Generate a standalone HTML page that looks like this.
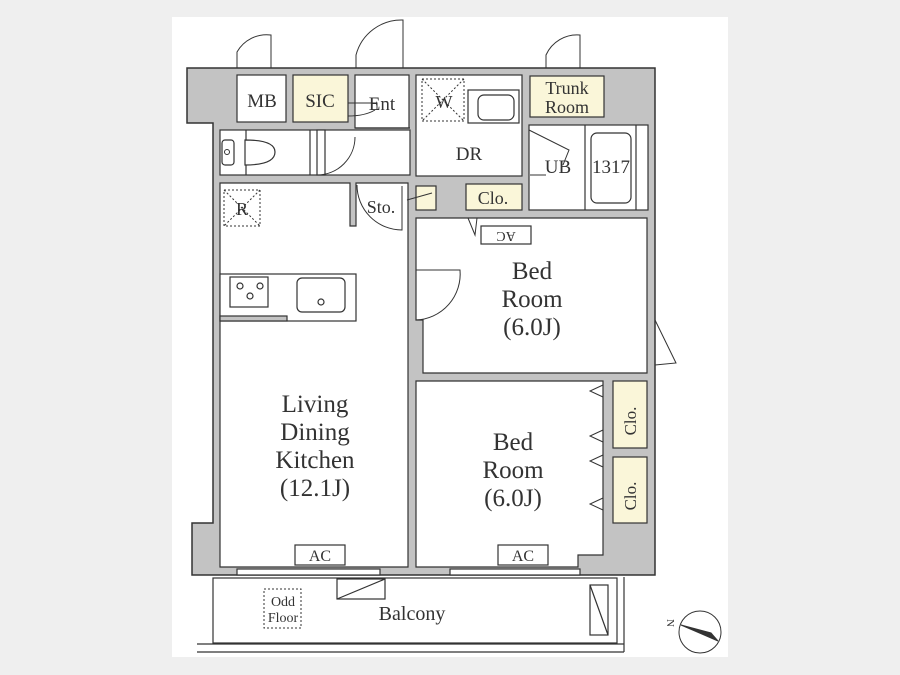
<!DOCTYPE html>
<html><head><meta charset="utf-8"><style>
html,body{margin:0;padding:0;background:#efefef;}
svg{display:block}
text{font-family:"Liberation Serif",serif;fill:#333}
</style></head><body>
<svg width="900" height="675" viewBox="0 0 900 675" xmlns="http://www.w3.org/2000/svg">
<rect x="0" y="0" width="900" height="675" fill="#efefef"/>
<rect x="172" y="17" width="556" height="640" fill="#fff"/>
<g stroke="#333" stroke-width="1.5" fill="none">
<polygon points="187,68 655,68 655,575 192,575 192,523 213,523 213,123 187,123" fill="#c3c3c3"/>
</g>
<g stroke="#333" stroke-width="1.2" fill="#fff">
<rect x="237" y="75" width="49" height="47"/>
<rect x="293" y="75" width="55" height="47" fill="#faf6d9"/>
<rect x="355" y="75" width="54" height="53"/>
<rect x="416" y="75" width="106" height="101"/>
<rect x="530" y="76" width="74" height="41" fill="#faf6d9"/>
<rect x="220" y="130" width="190" height="45"/>
<line x1="246" y1="130" x2="246" y2="175"/>
<line x1="310" y1="130" x2="310" y2="175"/>
<rect x="317" y="130" width="8" height="45"/>
<line x1="355" y1="128" x2="410" y2="128"/>
<rect x="529" y="125" width="119" height="85"/>
<line x1="585" y1="125" x2="585" y2="210"/>
<line x1="636" y1="125" x2="636" y2="210"/>
<rect x="591" y="133" width="40" height="70" rx="6"/>
<polygon points="220,183 350,183 350,226 356,226 356,183 408,183 408,567 220,567"/>
<rect x="416" y="186" width="20" height="24" fill="#faf6d9"/>
<rect x="466" y="184" width="56" height="26" fill="#faf6d9"/>
<polygon points="416,218 647,218 647,373 423,373 423,320 416,320"/>
<polygon points="416,381 603,381 603,555 578,555 578,567 416,567"/>
<rect x="613" y="381" width="34" height="67" fill="#faf6d9"/>
<rect x="613" y="457" width="34" height="66" fill="#faf6d9"/>
<rect x="220" y="274" width="136" height="47" fill="#fff"/>
<rect x="220" y="316" width="67" height="5" fill="#c3c3c3"/>
<rect x="230" y="277" width="38" height="30"/>
<rect x="297" y="278" width="48" height="34" rx="5"/>
<circle cx="321" cy="302" r="3"/>
<circle cx="240" cy="286" r="3"/><circle cx="260" cy="286" r="3"/><circle cx="250" cy="296" r="3"/>
<rect x="213" y="578" width="404" height="65"/>
<line x1="197" y1="644" x2="624" y2="644"/>
<line x1="197" y1="652" x2="624" y2="652"/>
<line x1="624" y1="577" x2="624" y2="652"/>
<rect x="237" y="569" width="143" height="6"/>
<rect x="450" y="569" width="130" height="6"/>
<rect x="337" y="579" width="48" height="20"/>
<line x1="337" y1="599" x2="385" y2="579"/>
<rect x="590" y="585" width="18" height="50"/>
<line x1="590" y1="585" x2="608" y2="635"/>
<rect x="295" y="545" width="50" height="20"/>
<rect x="498" y="545" width="50" height="20"/>
<rect x="481" y="226" width="50" height="18"/>
<rect x="468" y="90" width="51" height="33"/>
<rect x="478" y="95" width="36" height="25" rx="6"/>
<rect x="222" y="140" width="12" height="25" rx="3"/>
<path d="M245,140 Q275,140 275,152 Q275,165 245,165 Z"/>
</g>
<g stroke="#333" stroke-width="1" fill="none">
<circle cx="227" cy="152" r="2.5"/>
<path d="M237,68 L237,52 A34,34 0 0 1 271,35 L271,68"/>
<path d="M356,68 L356,55 A47,47 0 0 1 403,20 L403,68"/>
<path d="M546,68 L546,55 A34,34 0 0 1 580,35 L580,68"/>
<path d="M317,175 A38,38 0 0 0 355,137"/>
<path d="M357,185 A45,45 0 0 0 402,230 L402,186"/>
<path d="M416,320 A46,46 0 0 0 460,270 L416,270"/>
<path d="M655,320 L676,363 L655,365"/>
<path d="M529,130 L569,150 L563,165"/>
<path d="M348,103 L362,103 L377,103 L377,110 M348,116 Q365,116 375,110"/>
<line x1="407" y1="200" x2="432" y2="193"/>
<line x1="530" y1="175" x2="546" y2="175"/>
<path d="M468,218 L475,235 L477,218"/>
<g stroke-dasharray="2,2">
<rect x="422" y="79" width="42" height="42"/>
<line x1="422" y1="79" x2="464" y2="121"/><line x1="464" y1="79" x2="422" y2="121"/>
<rect x="224" y="190" width="36" height="36"/>
<line x1="224" y1="190" x2="260" y2="226"/><line x1="260" y1="190" x2="224" y2="226"/>
<rect x="264" y="589" width="37" height="39"/>
</g>
<path d="M603,385 L590,391 L603,397 M603,430 L590,436 L603,442 M603,455 L590,461 L603,467 M603,498 L590,504 L603,510"/>
<circle cx="700" cy="632" r="21"/>
<path d="M681,625 L718,641 L711,633 Z" fill="#333"/>
</g>
<g text-anchor="middle" font-size="20">
<text x="262" y="107" font-size="19">MB</text>
<text x="320" y="107" font-size="19">SIC</text>
<text x="382" y="110" font-size="19">Ent</text>
<text x="444" y="108" font-size="18">W</text>
<text x="567" y="94" font-size="18">Trunk</text>
<text x="567" y="113" font-size="18">Room</text>
<text x="469" y="160" font-size="19">DR</text>
<text x="558" y="173" font-size="19">UB</text>
<text x="611" y="173" font-size="19">1317</text>
<text x="242" y="215" font-size="18">R</text>
<text x="381" y="213" font-size="18">Sto.</text>
<text x="493" y="204" font-size="18">Clo.</text>
<text x="506" y="242" font-size="14" transform="rotate(180 506 237)">AC</text>
<text x="532" y="279" font-size="25">Bed</text>
<text x="532" y="307" font-size="25">Room</text>
<text x="532" y="335" font-size="25">(6.0J)</text>
<text x="513" y="450" font-size="25">Bed</text>
<text x="513" y="478" font-size="25">Room</text>
<text x="513" y="506" font-size="25">(6.0J)</text>
<text x="315" y="412" font-size="25">Living</text>
<text x="315" y="440" font-size="25">Dining</text>
<text x="315" y="468" font-size="25">Kitchen</text>
<text x="315" y="496" font-size="25">(12.1J)</text>
<text x="320" y="561" font-size="16">AC</text>
<text x="523" y="561" font-size="16">AC</text>
<text x="412" y="620" font-size="20">Balcony</text>
<text x="283" y="606" font-size="14">Odd</text>
<text x="283" y="622" font-size="14">Floor</text>
<text x="630" y="415" font-size="17" transform="rotate(-90 636 415)">Clo.</text>
<text x="630" y="490" font-size="17" transform="rotate(-90 636 490)">Clo.</text>
<text x="671" y="627" font-size="11" transform="rotate(90 671 623)">N</text>
</g>
</svg>
</body></html>
